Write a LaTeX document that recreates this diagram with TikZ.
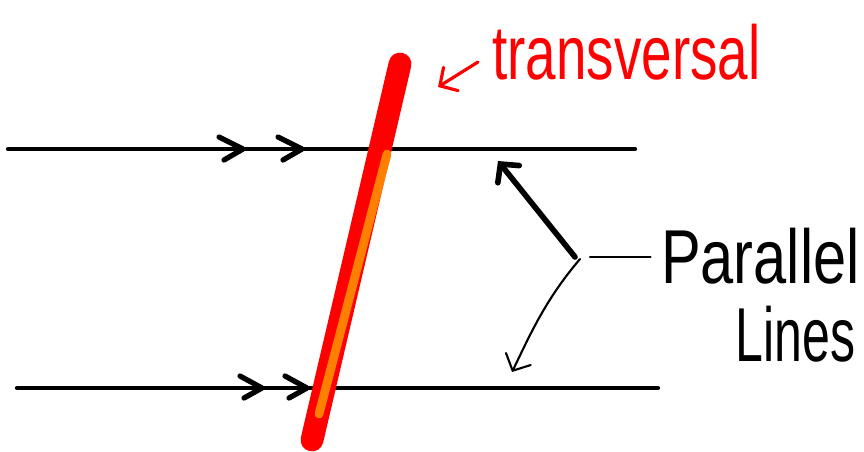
\documentclass[tikz,border=0pt]{standalone}
\usepackage{fontspec}
\usepackage{graphicx}
\setmainfont{Liberation Sans}
\usetikzlibrary{arrows.meta}
\definecolor{tvred}{HTML}{FF0000}
\definecolor{tvorange}{HTML}{FF8000}
\newcommand{\tall}[2][0.95]{\scalebox{#1}[1.45]{#2}}
\tikzset{
  line/.style={line width=2.4pt,line cap=round},
  chev/.style={line width=3pt,line cap=round,line join=round},
  trans/.style={line width=13pt,line cap=round,tvred},
  transin/.style={line width=5pt,line cap=round,tvorange},
  pointer/.style={-{Straight Barb[length=2.6mm,width=5.5mm,line cap=round]},line cap=round},
  lab/.style={font=\fontsize{30}{32}\selectfont,inner sep=0},
}
\begin{document}
\begin{tikzpicture}[x=0.02cm,y=-0.02cm]
  \useasboundingbox (0,0) rectangle (864,451);
  % the two parallel lines
  \coordinate (topL) at (8,149);   \coordinate (topR) at (635,149);
  \coordinate (botL) at (17,388);  \coordinate (botR) at (658,388);
  \draw[line] (topL) -- (topR);
  \draw[line] (botL) -- (botR);
  % double chevrons marking them parallel
  \foreach \x in {219,278} \draw[chev] (\x,137) -- (\x+24,149) -- (\x+5,160);
  \foreach \x in {240,285} \draw[chev] (\x,376) -- (\x+22,388) -- (\x+4,398);
  % the transversal
  \coordinate (tvTop) at (400,64); \coordinate (tvBot) at (312,440);
  \draw[trans] (tvTop) -- (tvBot);
  \coordinate (orTop) at (387,154); \coordinate (orBot) at (319,414);
  \draw[transin] (orTop) -- (orBot);
  % labels
  \node[lab,text=tvred,anchor=base west] (tvlab) at (492,79) {\tall[1.04]{transversal}};
  \coordinate (tvtip) at (438,87);
  \draw[pointer,tvred,line width=1.8pt] (478,62) coordinate (tvtail) -- (tvtip);
  \node[lab,anchor=base east] (parallel) at (860,283) {\tall[1.13]{Parallel}};
  \node[lab,anchor=base east] (lines) at (856,361) {\tall{Lines}};
  \coordinate (fork) at (575,257);
  \coordinate (upTip) at (498,161);
  \coordinate (dnTip) at (512,372);
  \draw[line width=1.2pt,line cap=round] (590,257) -- ([xshift=-10*0.02cm]parallel.west |- fork);
  \draw[pointer,line width=3.2pt] (fork) -- (upTip);
  \draw[pointer,line width=1.2pt] (580,259) .. controls (545,300) and (530,335) .. (dnTip);
\end{tikzpicture}
\end{document}
